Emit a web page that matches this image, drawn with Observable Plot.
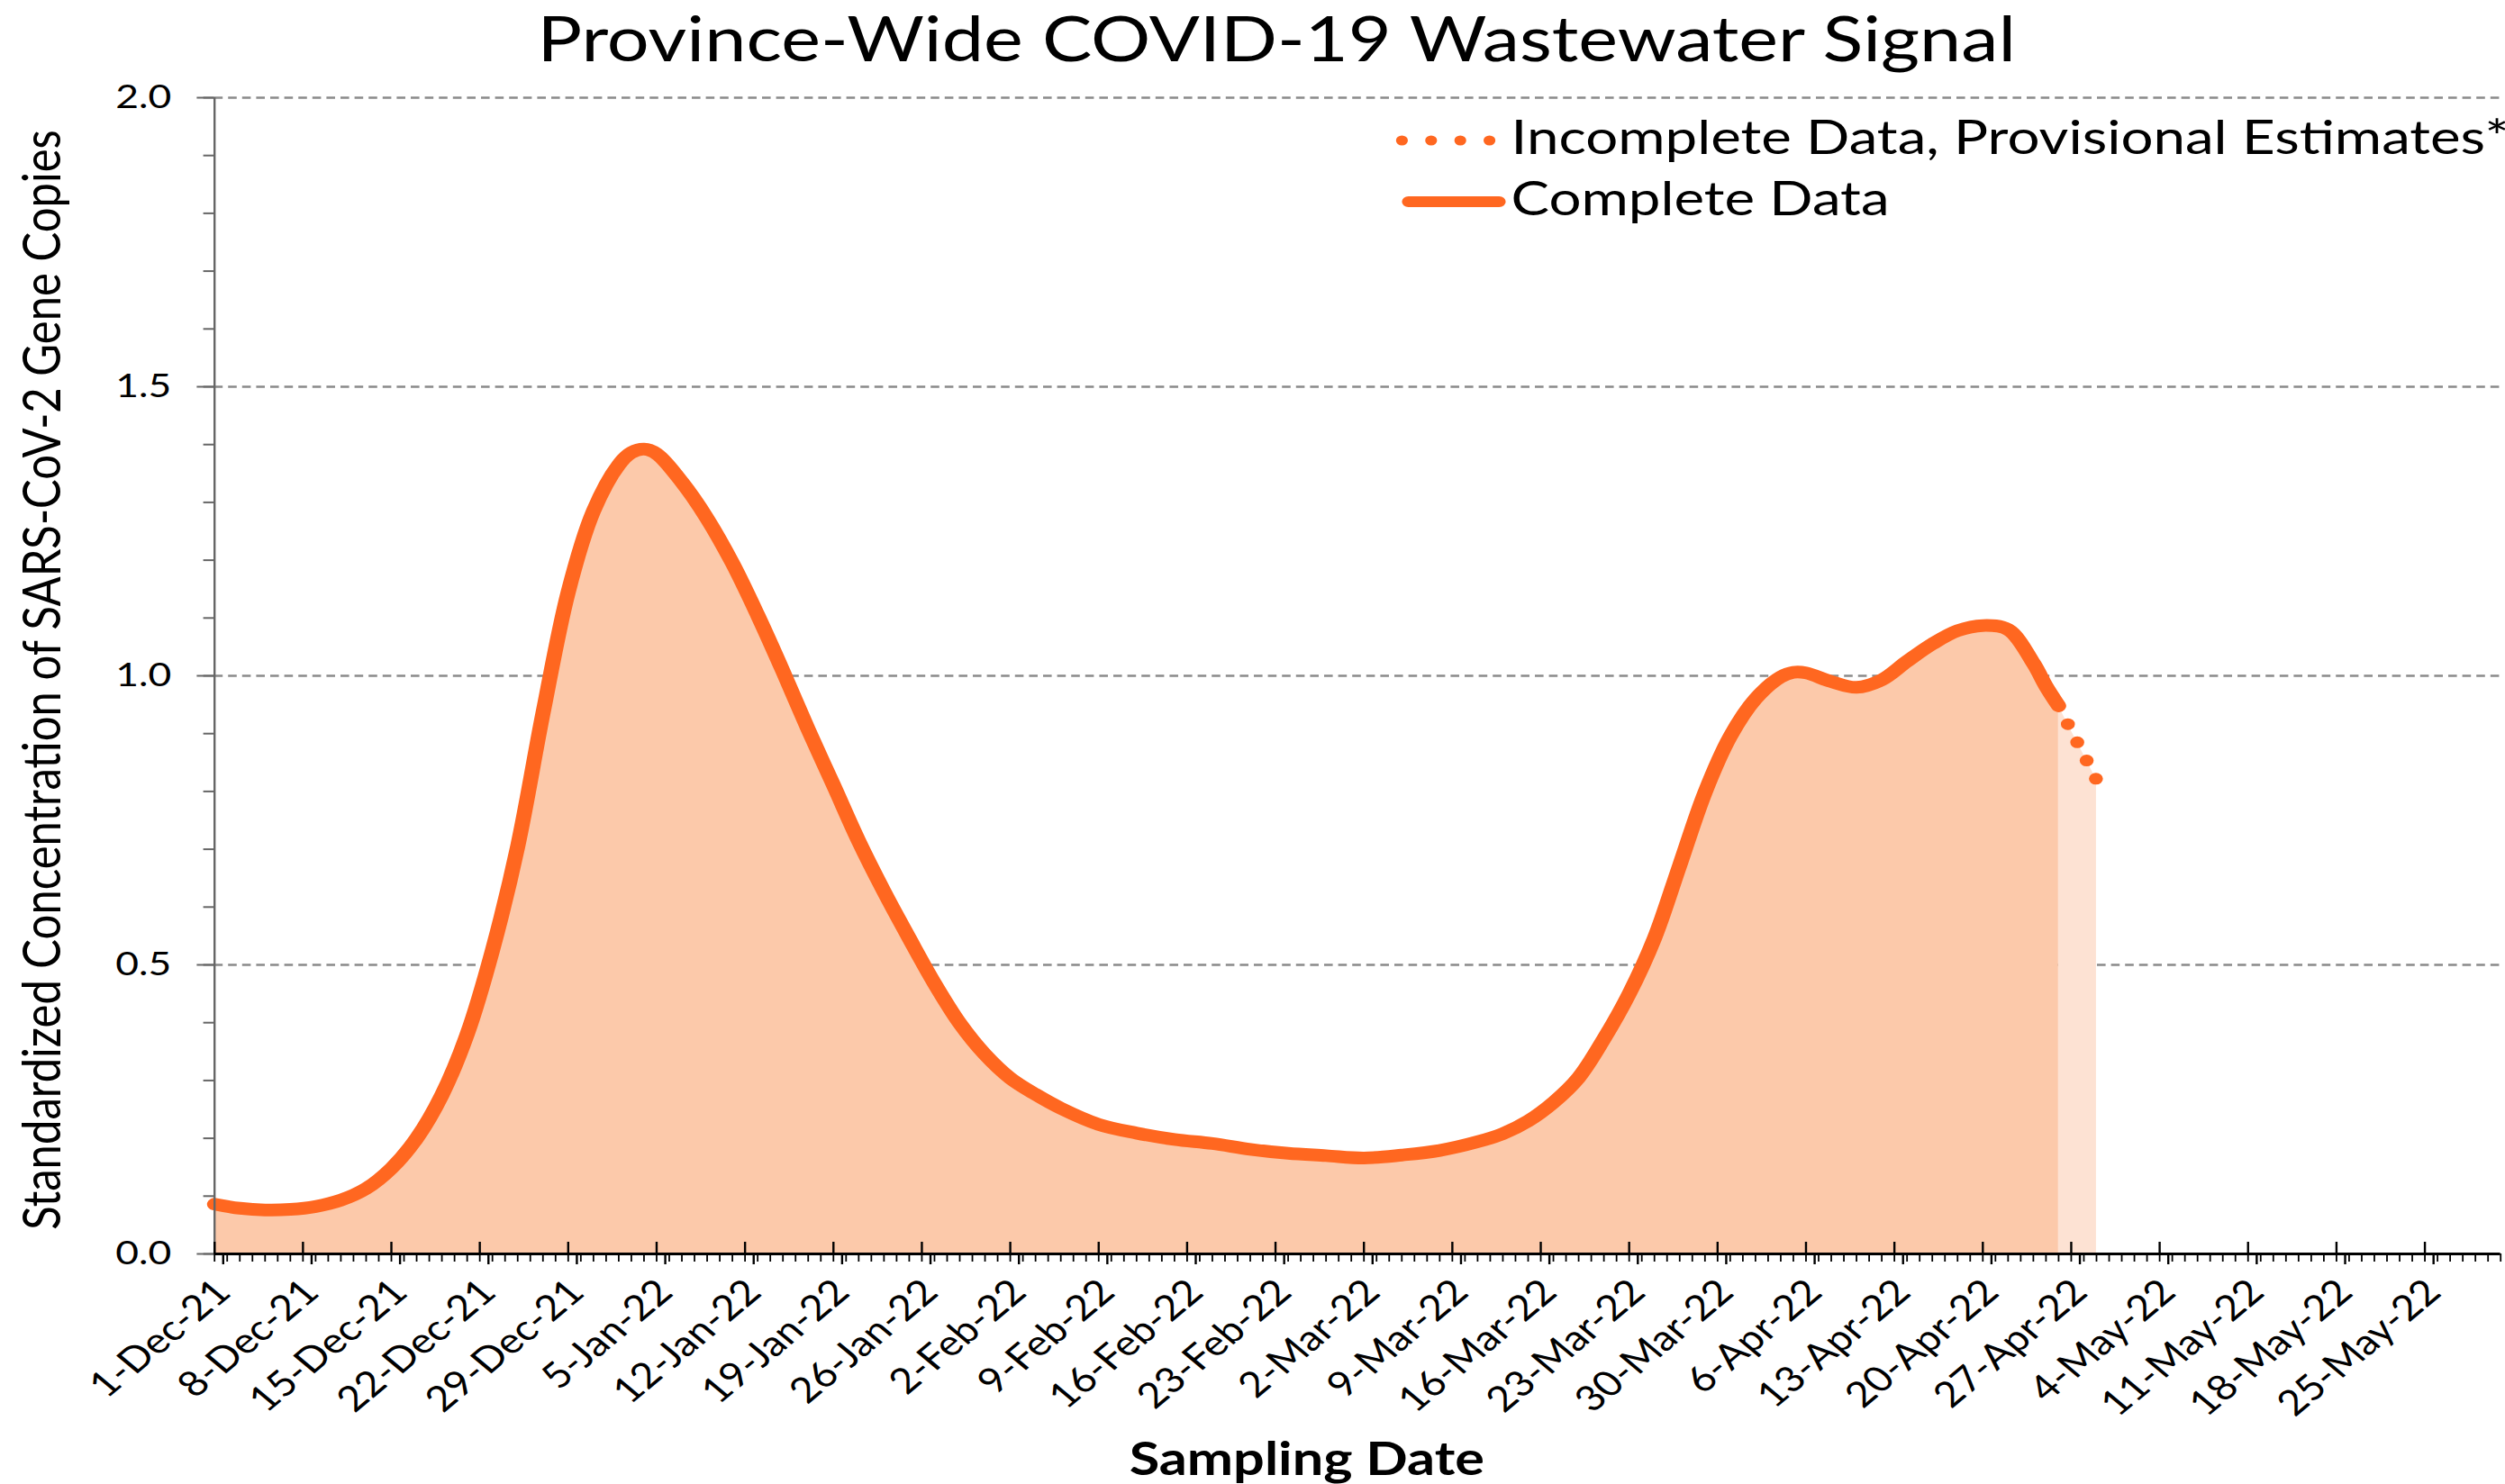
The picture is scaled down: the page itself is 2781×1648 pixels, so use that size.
<!DOCTYPE html>
<html><head><meta charset="utf-8">
<script src="https://cdn.jsdelivr.net/npm/d3@7"></script>
<script src="https://cdn.jsdelivr.net/npm/@observablehq/plot@0.6"></script>
<style>
html,body{margin:0;padding:0;background:#fff;overflow:hidden}
#wrap{position:relative;width:2318px;height:1648px;transform-origin:0 0;transform:scaleX(1.2);font-family:Lato,sans-serif;color:#000}
#title{height:95px;position:relative}
#title span{position:absolute;left:1181px;top:0px;transform:translateX(-50%);font-size:69px;line-height:83px;white-space:nowrap}
.abs{position:absolute;white-space:nowrap}
.leg{font-size:53px;line-height:64px;left:1398px}
#ytitle{left:37px;top:755px;transform:translate(-50%,-50%) rotate(-90deg);font-size:49px;line-height:59px}
#xtitle{left:1209px;top:1588px;transform:translateX(-50%);font-size:51px;font-weight:700;line-height:61px}
svg{display:block}
</style></head>
<body>
<div id="wrap">
  <div id="title"><span>Province-Wide COVID-19 Wastewater Signal</span></div>
  <div id="chart"></div>
  <svg class="abs" style="left:1288px;top:140px" width="120" height="32"><line x1="9" y1="16" x2="90.5" y2="16" stroke="#FF6720" stroke-width="11" stroke-linecap="round" stroke-dasharray="0,27"/></svg>
  <svg class="abs" style="left:1288px;top:208px" width="120" height="32"><line x1="15" y1="16" x2="99" y2="16" stroke="#FF6720" stroke-width="12" stroke-linecap="round"/></svg>
  <div class="abs leg" style="top:119px">Incomplete Data, Provisional Estimates*</div>
  <div class="abs leg" style="top:187px">Complete Data</div>
  <div class="abs" id="ytitle">Standardized Concentration of SARS-CoV-2 Gene Copies</div>
  <div class="abs" id="xtitle">Sampling Date</div>
</div>
<script>
// ---- data ----
const completeDates = [
  "2021-12-01","2021-12-03","2021-12-05","2021-12-07","2021-12-09","2021-12-11","2021-12-13","2021-12-15",
  "2021-12-17","2021-12-19","2021-12-21","2021-12-23","2021-12-25","2021-12-27","2021-12-29","2021-12-31",
  "2022-01-02","2022-01-03","2022-01-04","2022-01-05","2022-01-07","2022-01-09","2022-01-11","2022-01-13",
  "2022-01-15","2022-01-17","2022-01-19","2022-01-21","2022-01-23","2022-01-25","2022-01-27","2022-01-29",
  "2022-01-31","2022-02-02","2022-02-04","2022-02-06","2022-02-09","2022-02-12","2022-02-15","2022-02-18",
  "2022-02-21","2022-02-24","2022-02-27","2022-03-02","2022-03-05","2022-03-08","2022-03-11","2022-03-13",
  "2022-03-15","2022-03-17","2022-03-19","2022-03-21","2022-03-23","2022-03-25","2022-03-27","2022-03-29",
  "2022-03-31","2022-04-02","2022-04-04","2022-04-05","2022-04-06","2022-04-08","2022-04-10","2022-04-12",
  "2022-04-14","2022-04-16","2022-04-18","2022-04-20","2022-04-22","2022-04-24","2022-04-25","2022-04-26"
];
const completeValues = [
  0.086,0.079,0.076,0.077,0.082,0.093,0.113,0.148,
  0.200,0.275,0.380,0.525,0.705,0.935,1.145,1.285,
  1.365,1.386,1.392,1.384,1.335,1.272,1.195,1.105,
  1.008,0.907,0.811,0.714,0.627,0.546,0.468,0.399,
  0.345,0.304,0.276,0.252,0.224,0.209,0.198,0.191,
  0.181,0.174,0.170,0.166,0.171,0.179,0.194,0.208,
  0.230,0.262,0.305,0.372,0.450,0.546,0.672,0.798,
  0.895,0.960,0.998,1.006,1.005,0.990,0.980,0.993,
  1.025,1.055,1.078,1.087,1.080,1.022,0.982,0.948
];
const provisionalDates = ["2022-04-26","2022-04-27","2022-04-28","2022-04-29"];
const provisionalValues = [0.948,0.905,0.863,0.820];
const yMajorTicks = [0, 0.5, 1.0, 1.5, 2.0];
const gridValues = [0.5, 1.0, 1.5, 2.0];
const xStart = "2021-12-01", xEnd = "2022-05-31", lastLabel = "2022-05-26";

const parse = d3.utcParse("%Y-%m-%d");
const complete = completeDates.map((d, i) => ({date: parse(d), value: completeValues[i]}));
const provisional = provisionalDates.map((d, i) => ({date: parse(d), value: provisionalValues[i]}));
const weekTicks = d3.utcWednesday.range(parse(xStart), parse(lastLabel));
const dayTicks = d3.utcDay.range(parse(xStart), d3.utcDay.offset(parse(xEnd), 1));
const yMinorTicks = d3.range(0, 21).map(i => i / 10);

const ORANGE = "#FF6720";
const chart = Plot.plot({
  width: 2318, height: 1553,
  marginTop: 13, marginBottom: 256, marginLeft: 198, marginRight: 5,
  style: {fontFamily: "Lato, sans-serif", background: "transparent", color: "#000", overflow: "visible"},
  x: {type: "utc", domain: [parse(xStart), parse(xEnd)]},
  y: {domain: [0, 2]},
  marks: [
    Plot.ruleY(gridValues, {stroke: "#8a8a8a", strokeWidth: 2.5, strokeDasharray: "8,5"}),
    Plot.areaY(provisional, {x: "date", y: "value", fill: "#FDE2D3"}),
    Plot.areaY(complete, {x: "date", y: "value", fill: "#FCC9AA", curve: "catmull-rom"}),
    Plot.lineY(complete, {x: "date", y: "value", stroke: ORANGE, strokeWidth: 14, curve: "catmull-rom", strokeLinecap: "round", strokeLinejoin: "round"}),
    Plot.lineY(provisional, {x: "date", y: "value", stroke: ORANGE, strokeWidth: 13, strokeLinecap: "round", strokeDasharray: "0,22"}),
    Plot.ruleX([parse(xStart)], {stroke: "#666", strokeWidth: 2}),
    Plot.axisY({ticks: yMinorTicks, tickSize: 10, stroke: "#666", strokeWidth: 2, fill: "none", label: null}),
    Plot.axisY({ticks: yMajorTicks, tickSize: 16, tickPadding: 24, tickFormat: d3.format(".1f"), fontSize: 37, stroke: "#666", strokeWidth: 2, label: null}),
    Plot.axisX({ticks: dayTicks, tickSize: 9, stroke: "#000", strokeWidth: 1.5, fill: "none", label: null}),
    Plot.axisX({ticks: weekTicks, tickSize: 12, tickRotate: -45, tickPadding: 24, dx: 8, tickFormat: "%-d-%b-%y", fontSize: 39, stroke: "#000", strokeWidth: 2, label: null}),
    Plot.ruleX(weekTicks, {y1: 0, y2: 0, insetTop: -13, stroke: "#000", strokeWidth: 2}),
    Plot.ruleY([0], {stroke: "#000", strokeWidth: 3})
  ]
});
document.getElementById("chart").appendChild(chart);
</script>
</body></html>
